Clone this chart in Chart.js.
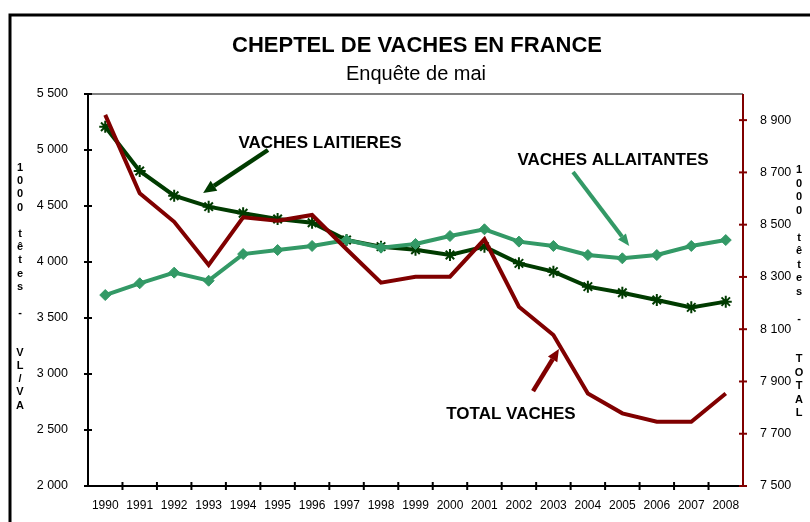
<!DOCTYPE html>
<html>
<head>
<meta charset="utf-8">
<script src="https://cdn.jsdelivr.net/npm/chart.js@4/dist/chart.umd.min.js"></script>
<style>
html,body{margin:0;padding:0;background:#fff;}
canvas{display:block;}
</style>
</head>
<body>
<canvas id="c" width="810" height="522"></canvas>
<script>
const years = ['1990','1991','1992','1993','1994','1995','1996','1997','1998','1999','2000','2001','2002','2003','2004','2005','2006','2007','2008'];
const vachesLaitieres = [5208, 4813, 4592, 4494, 4435, 4384, 4351, 4196, 4137, 4110, 4062, 4137, 3988, 3914, 3780, 3726, 3661, 3595, 3646];
const vachesAllaitantes = [3705, 3810, 3905, 3833, 4071, 4107, 4143, 4196, 4128, 4161, 4232, 4292, 4182, 4143, 4062, 4033, 4062, 4143, 4196];
const totalVaches = [8920, 8620, 8511, 8346, 8528, 8515, 8537, 8406, 8278, 8301, 8301, 8444, 8186, 8078, 7854, 7778, 7746, 7746, 7854];
const leftTicks = [2000, 2500, 3000, 3500, 4000, 4500, 5000, 5500];
const rightTicks = [7500, 7700, 7900, 8100, 8300, 8500, 8700, 8900];
const chartTitle = 'CHEPTEL DE VACHES EN FRANCE';
const chartSubtitle = 'Enquête de mai';
const leftAxisTitle = ['1','0','0','0','','t','ê','t','e','s','','-','','','V','L','/','V','A'];
const rightAxisTitle = ['1','0','0','0','','t','ê','t','e','s','','-','','','T','O','T','A','L'];

const C_VL = '#003b00';
const C_VA = '#339966';
const C_TOT = '#800000';
const FONT = '"Liberation Sans", Arial, sans-serif';

function fmt(v){ return String(v).replace(/\B(?=(\d{3})+(?!\d))/g, ' '); }

function arrow(ctx, x1, y1, x2, y2, color, lw, hl, hw){
  const a = Math.atan2(y2 - y1, x2 - x1);
  const bx = x2 - hl * Math.cos(a), by = y2 - hl * Math.sin(a);
  ctx.save();
  ctx.strokeStyle = color; ctx.fillStyle = color; ctx.lineWidth = lw; ctx.lineCap = 'butt';
  ctx.beginPath(); ctx.moveTo(x1, y1); ctx.lineTo(bx, by); ctx.stroke();
  ctx.beginPath();
  ctx.moveTo(x2, y2);
  ctx.lineTo(bx + hw/2 * Math.sin(a), by - hw/2 * Math.cos(a));
  ctx.lineTo(bx - hw/2 * Math.sin(a), by + hw/2 * Math.cos(a));
  ctx.closePath(); ctx.fill();
  ctx.restore();
}

const decor = {
  id: 'decor',
  beforeDraw(chart){
    const ctx = chart.ctx;
    ctx.save();
    ctx.fillStyle = '#fff';
    ctx.fillRect(0, 0, chart.width, chart.height);
    // outer frame
    ctx.strokeStyle = '#000'; ctx.lineWidth = 3;
    ctx.beginPath(); ctx.moveTo(10, 522); ctx.lineTo(10, 15); ctx.lineTo(810, 15); ctx.stroke();
    // titles
    ctx.fillStyle = '#000'; ctx.textAlign = 'center'; ctx.textBaseline = 'middle';
    ctx.font = 'bold 22px ' + FONT;
    ctx.fillText(chartTitle, 417, 46);
    ctx.font = '20px ' + FONT;
    ctx.fillText(chartSubtitle, 416, 74);
    // vertical stacked axis titles
    ctx.font = 'bold 11px ' + FONT;
    leftAxisTitle.forEach((ch, i) => { if (ch) ctx.fillText(ch, 20, 168 + i * 13.2); });
    rightAxisTitle.forEach((ch, i) => { if (ch) ctx.fillText(ch, 799, 170 + i * 13.5); });
    ctx.restore();
  },
  afterDatasetsDraw(chart){
    const ctx = chart.ctx;
    const a = chart.chartArea;
    const x = chart.scales.x, yl = chart.scales.y, yr = chart.scales.y1;
    ctx.save();
    // plot top border
    ctx.strokeStyle = '#808080'; ctx.lineWidth = 2;
    ctx.beginPath(); ctx.moveTo(a.left, a.top); ctx.lineTo(a.right, a.top); ctx.stroke();
    // left axis
    ctx.strokeStyle = '#000'; ctx.lineWidth = 2;
    ctx.beginPath(); ctx.moveTo(a.left, a.top); ctx.lineTo(a.left, a.bottom); ctx.stroke();
    yl.ticks.forEach(t => { const p = yl.getPixelForValue(t.value);
      ctx.beginPath(); ctx.moveTo(a.left - 4, p); ctx.lineTo(a.left + 4, p); ctx.stroke(); });
    // x axis
    ctx.beginPath(); ctx.moveTo(a.left, a.bottom); ctx.lineTo(a.right, a.bottom); ctx.stroke();
    for (let i = 1; i < years.length; i++) {
      const p = (x.getPixelForValue(i - 1) + x.getPixelForValue(i)) / 2;
      ctx.beginPath(); ctx.moveTo(p, a.bottom - 4); ctx.lineTo(p, a.bottom + 4); ctx.stroke();
    }
    // right axis
    ctx.strokeStyle = C_TOT;
    ctx.beginPath(); ctx.moveTo(a.right, a.top); ctx.lineTo(a.right, a.bottom); ctx.stroke();
    yr.ticks.forEach(t => { const p = yr.getPixelForValue(t.value);
      ctx.beginPath(); ctx.moveTo(a.right - 4, p); ctx.lineTo(a.right + 4, p); ctx.stroke(); });
    ctx.restore();
  },
  afterDraw(chart){
    const ctx = chart.ctx;
    const x = chart.scales.x, yl = chart.scales.y, yr = chart.scales.y1;
    ctx.save();
    ctx.fillStyle = '#000'; ctx.textAlign = 'center'; ctx.textBaseline = 'middle';
    ctx.font = 'bold 17px ' + FONT;
    ctx.fillText('VACHES LAITIERES', x.getPixelForValue(6.23), yl.getPixelForValue(5062));
    ctx.fillText('VACHES ALLAITANTES', x.getPixelForValue(14.73), yl.getPixelForValue(4911));
    ctx.fillText('TOTAL VACHES', x.getPixelForValue(11.77), yr.getPixelForValue(7775));
    arrow(ctx, x.getPixelForValue(4.72), yl.getPixelForValue(5000), x.getPixelForValue(2.84), yl.getPixelForValue(4616), C_VL, 4.5, 13, 12);
    arrow(ctx, x.getPixelForValue(13.57), yl.getPixelForValue(4804), x.getPixelForValue(15.2), yl.getPixelForValue(4143), C_VA, 4, 12, 10);
    arrow(ctx, x.getPixelForValue(12.41), yr.getPixelForValue(7863), x.getPixelForValue(13.16), yr.getPixelForValue(8024), C_TOT, 4.5, 12, 11);
    ctx.restore();
  }
};

new Chart(document.getElementById('c'), {
  type: 'line',
  data: {
    labels: years,
    datasets: [
      { label: 'TOTAL VACHES', data: totalVaches, yAxisID: 'y1', borderColor: C_TOT, backgroundColor: C_TOT,
        borderWidth: 4, pointRadius: 0, tension: 0, order: 0 },
      { label: 'VACHES ALLAITANTES', data: vachesAllaitantes, yAxisID: 'y', borderColor: C_VA, backgroundColor: C_VA,
        borderWidth: 4, pointStyle: 'rectRot', pointRadius: 5.5, pointBorderWidth: 1, tension: 0, order: 1 },
      { label: 'VACHES LAITIERES', data: vachesLaitieres, yAxisID: 'y', borderColor: C_VL, backgroundColor: C_VL,
        borderWidth: 4, pointStyle: 'star', pointRadius: 6, pointBorderWidth: 2, tension: 0, order: 2 }
    ]
  },
  options: {
    responsive: false,
    animation: false,
    events: [],
    layout: { padding: { top: 94, left: 0, right: 0, bottom: 0 } },
    plugins: { legend: { display: false }, tooltip: { enabled: false }, title: { display: false } },
    scales: {
      x: {
        type: 'category', offset: true,
        grid: { display: false, offset: true }, border: { display: false },
        ticks: { color: '#000', font: { family: FONT, size: 12 }, padding: 4, maxRotation: 0, autoSkip: false },
        afterFit(s){ s.height = 36; }
      },
      y: {
        position: 'left', min: 2000, max: 5500,
        grid: { display: false }, border: { display: false },
        afterBuildTicks(s){ s.ticks = leftTicks.map(v => ({ value: v })); },
        ticks: { color: '#000', font: { family: FONT, size: 12.5 }, padding: 12, callback: v => fmt(v) },
        afterFit(s){ s.width = 88; }
      },
      y1: {
        position: 'right', min: 7500, max: 9000,
        grid: { display: false }, border: { display: false },
        afterBuildTicks(s){ s.ticks = rightTicks.map(v => ({ value: v })); },
        ticks: { color: '#000', font: { family: FONT, size: 12.5 }, padding: 9, callback: v => fmt(v) },
        afterFit(s){ s.width = 67; }
      }
    }
  },
  plugins: [decor]
});
</script>
</body>
</html>
